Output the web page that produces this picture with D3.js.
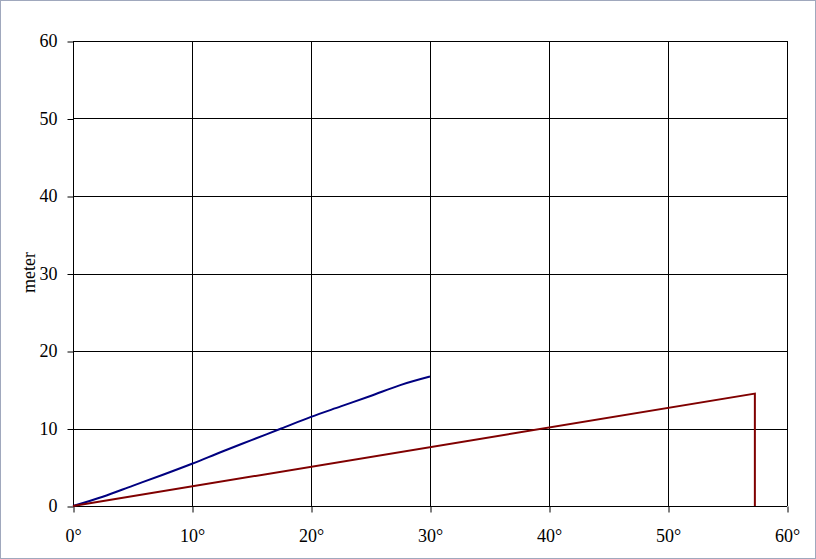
<!DOCTYPE html>
<html>
<head>
<meta charset="utf-8">
<script src="https://cdn.jsdelivr.net/npm/d3@7"></script>
<style>
  body { margin: 0; background: #fff; }
  svg { display: block; font-family: "Liberation Serif", "Times New Roman", serif; }
</style>
</head>
<body>
<script>
// blue curve, angle in degrees vs metres
var blueAngle = [0, 2.5, 5, 7.5, 10, 12.5, 15, 17.5, 20, 22.5, 25, 27.5, 30];
var blueMeter = [0, 1.2, 2.6, 4.0, 5.45, 7.0, 8.5, 10.0, 11.5, 12.85, 14.2, 15.6, 16.7];

// red line: straight up to 1 rad, then drops to zero
var redAngle = [0, 57.3, 57.3];
var redMeter = [0, 14.5, 0];

var xTicks = [0, 10, 20, 30, 40, 50, 60];
var yTicks = [0, 10, 20, 30, 40, 50, 60];

var width = 816, height = 559;
var margin = {left: 73, right: 29, top: 41, bottom: 53};
var fontSize = 18;

var svg = d3.select("body").append("svg")
    .attr("width", width)
    .attr("height", height);

// outer frame
svg.append("rect")
    .attr("x", 0.5).attr("y", 0.5)
    .attr("width", width - 1).attr("height", height - 1)
    .attr("fill", "#fff")
    .attr("stroke", "#a0a8bd");

var xScale = d3.scaleLinear()
    .domain([0, 60])
    .range([margin.left, width - margin.right]);

var yScale = d3.scaleLinear()
    .domain([0, 60])
    .range([height - margin.bottom, margin.top]);

// grid
var g = svg.append("g");
g.selectAll(".vgrid")
    .data(xTicks)
  .enter().append("line")
    .attr("x1", function(d) { return Math.round(xScale(d)) + 0.5; })
    .attr("x2", function(d) { return Math.round(xScale(d)) + 0.5; })
    .attr("y1", yScale(60))
    .attr("y2", yScale(0))
    .attr("stroke", "#000");

g.selectAll(".hgrid")
    .data(yTicks)
  .enter().append("line")
    .attr("y1", function(d) { return Math.round(yScale(d)) + 0.5; })
    .attr("y2", function(d) { return Math.round(yScale(d)) + 0.5; })
    .attr("x1", xScale(0))
    .attr("x2", xScale(60))
    .attr("stroke", "#000");

// axes
var xAxis = d3.axisBottom(xScale)
    .tickValues(xTicks)
    .tickSize(6)
    .tickPadding(17)
    .tickFormat(function(d) { return d + "°"; });

var yAxis = d3.axisLeft(yScale)
    .tickValues(yTicks)
    .tickSize(6)
    .tickPadding(10);

svg.append("g")
    .attr("transform", "translate(0," + (Math.round(yScale(0)) + 0.5) + ")")
    .call(xAxis)
    .call(function(a) {
        a.select(".domain").remove();
        a.selectAll("line").attr("stroke", "#000").attr("transform", "translate(0.5,0)");
        a.selectAll("text").attr("font-size", fontSize).attr("fill", "#000")
            .attr("font-family", "Liberation Serif, serif");
    });

svg.append("g")
    .attr("transform", "translate(" + (Math.round(xScale(0)) + 0.5) + ",0)")
    .call(yAxis)
    .call(function(a) {
        a.select(".domain").remove();
        a.selectAll("line").attr("stroke", "#000").attr("transform", "translate(0,0.5)");
        a.selectAll("text").attr("font-size", fontSize).attr("fill", "#000")
            .attr("font-family", "Liberation Serif, serif");
    });

// y label
svg.append("text")
    .attr("transform", "translate(35," + (yScale(30) - 1) + ") rotate(-90)")
    .attr("text-anchor", "middle")
    .attr("font-size", fontSize)
    .text("meter");

// series
var line = d3.line()
    .x(function(d) { return xScale(d[0]); })
    .y(function(d) { return yScale(d[1]); });

svg.append("path")
    .datum(d3.zip(blueAngle, blueMeter))
    .attr("d", line.curve(d3.curveMonotoneX))
    .attr("fill", "none")
    .attr("stroke", "#000080")
    .attr("stroke-width", 2);

svg.append("path")
    .datum(d3.zip(redAngle, redMeter))
    .attr("d", line.curve(d3.curveLinear))
    .attr("fill", "none")
    .attr("stroke", "#800000")
    .attr("stroke-width", 2);
</script>
</body>
</html>
